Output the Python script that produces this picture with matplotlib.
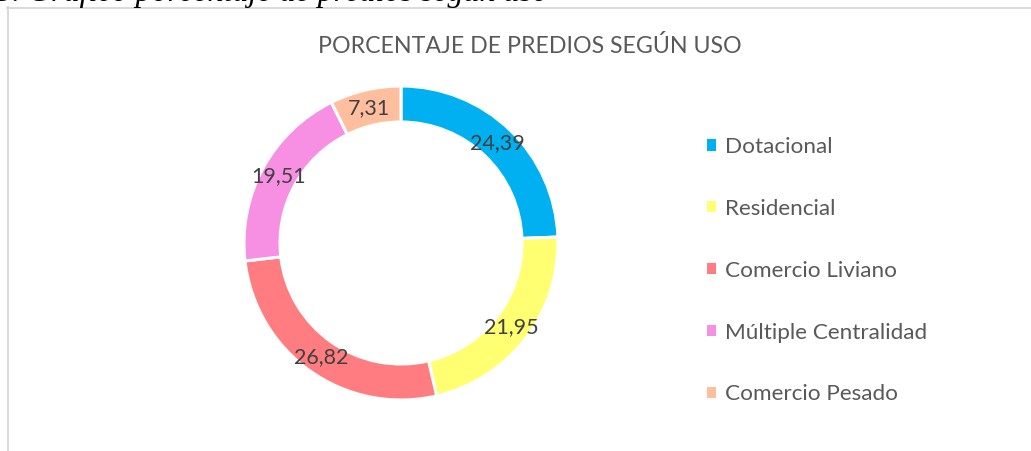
import numpy as np
import matplotlib
matplotlib.use("Agg")
import matplotlib.pyplot as plt
from matplotlib.patches import Patch
from matplotlib.lines import Line2D

categories = ["Dotacional", "Residencial", "Comercio Liviano", "Múltiple Centralidad", "Comercio Pesado"]
values = [24.39, 21.95, 26.82, 19.51, 7.31]
value_labels = ["24,39", "21,95", "26,82", "19,51", "7,31"]
colors = ["#00B0F0", "#FFFF71", "#FF7C80", "#F78FE3", "#FFBF9F"]
title = "PORCENTAJE DE PREDIOS SEGÚN USO"
caption = "5. Gráfico porcentaje de predios según uso"

W, H = 1031, 451
fig = plt.figure(figsize=(W / 100, H / 100), dpi=100)
fig.patch.set_facecolor("white")

def fx(px):
    return px / W

def fy(py):
    return 1 - py / H

# chart frame (only top and left visible)
border = "#D9D9D9"
fig.add_artist(Line2D([fx(7), fx(1031)], [fy(7.5), fy(7.5)], color=border, lw=1.4, transform=fig.transFigure))
fig.add_artist(Line2D([fx(7.5), fx(7.5)], [fy(7), fy(451)], color=border, lw=1.4, transform=fig.transFigure))

# clipped caption at the very top (only its lower part shows, as in the source)
fig.text(fx(-4), fy(0.5), caption, fontsize=23, family="Liberation Serif", style="italic",
         color="black", ha="left", va="baseline")

# donut
cx, cy, R = 401, 243, 157
ax = fig.add_axes([fx(cx - R), fy(cy + R), (2 * R) / W, (2 * R) / H])
wedges, _ = ax.pie(values, colors=colors, startangle=90, counterclock=False, radius=1,
                   wedgeprops=dict(width=36 / 157, edgecolor="white", linewidth=2.2))
ax.set_xlim(-1, 1)
ax.set_ylim(-1, 1)
ax.set_aspect("equal")
ax.axis("off")

rlab = 1 - 18 / 157
for w, lab in zip(wedges, value_labels):
    ang = np.deg2rad((w.theta1 + w.theta2) / 2)
    ax.text(rlab * np.cos(ang), rlab * np.sin(ang), lab, ha="center", va="center",
            fontsize=15.5, family="Lato", color="#404040")

fig.text(fx(530), fy(46), title, ha="center", va="center", fontsize=16.7, family="Lato", color="#595959")

handles = [Patch(facecolor=c, edgecolor="none") for c in colors]
leg = fig.legend(handles, categories, loc="upper left", bbox_to_anchor=(fx(707), fy(137)),
                 frameon=False, prop=dict(family="Lato", size=16.2), labelcolor="#595959",
                 handlelength=0.4, handleheight=0.4, handletextpad=0.4, labelspacing=1.86,
                 borderaxespad=0, borderpad=0)

fig.savefig("out.png", dpi=100)
